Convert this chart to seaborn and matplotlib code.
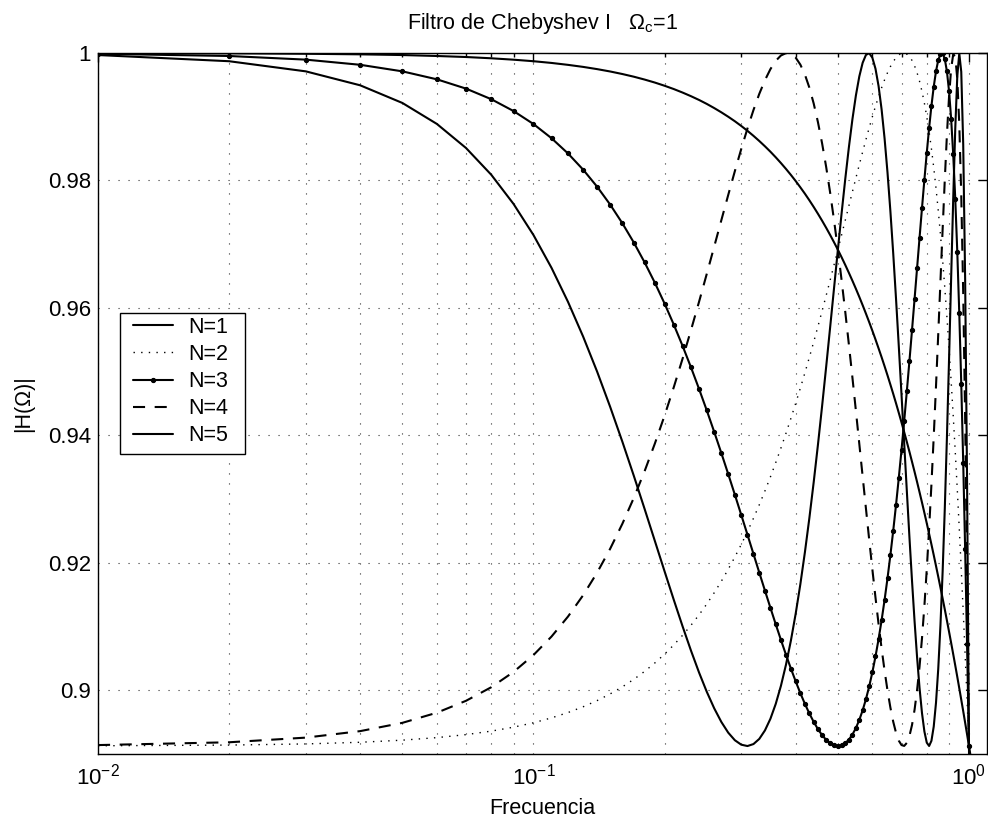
import numpy as np
import matplotlib
matplotlib.use("Agg")
import matplotlib.pyplot as plt
from matplotlib.patches import Rectangle
from matplotlib.ticker import LogLocator, NullFormatter
import seaborn as sns

# ---------------- data ----------------
freq = [0.01, 0.02, 0.03, 0.04, 0.05, 0.06, 0.07, 0.08, 0.09, 0.10,
        0.11, 0.12, 0.13, 0.14, 0.15, 0.16, 0.17, 0.18, 0.19, 0.20,
        0.21, 0.22, 0.23, 0.24, 0.25, 0.26, 0.27, 0.28, 0.29, 0.30,
        0.31, 0.32, 0.33, 0.34, 0.35, 0.36, 0.37, 0.38, 0.39, 0.40,
        0.41, 0.42, 0.43, 0.44, 0.45, 0.46, 0.47, 0.48, 0.49, 0.50,
        0.51, 0.52, 0.53, 0.54, 0.55, 0.56, 0.57, 0.58, 0.59, 0.60,
        0.61, 0.62, 0.63, 0.64, 0.65, 0.66, 0.67, 0.68, 0.69, 0.70,
        0.71, 0.72, 0.73, 0.74, 0.75, 0.76, 0.77, 0.78, 0.79, 0.80,
        0.81, 0.82, 0.83, 0.84, 0.85, 0.86, 0.87, 0.88, 0.89, 0.90,
        0.91, 0.92, 0.93, 0.94, 0.95, 0.96, 0.97, 0.98, 0.99, 1.00,
        1.01]

mag_n1 = [0.99999, 0.99995, 0.99988, 0.99979, 0.99968, 0.99953, 0.99937, 0.99917, 0.99895, 0.99871,
          0.99844, 0.99814, 0.99782, 0.99747, 0.99710, 0.99670, 0.99628, 0.99583, 0.99536, 0.99486,
          0.99434, 0.99379, 0.99322, 0.99263, 0.99201, 0.99136, 0.99069, 0.99000, 0.98929, 0.98855,
          0.98779, 0.98700, 0.98619, 0.98536, 0.98451, 0.98363, 0.98273, 0.98181, 0.98087, 0.97991,
          0.97892, 0.97792, 0.97689, 0.97584, 0.97477, 0.97368, 0.97257, 0.97144, 0.97029, 0.96913,
          0.96794, 0.96673, 0.96550, 0.96426, 0.96300, 0.96172, 0.96042, 0.95910, 0.95777, 0.95642,
          0.95505, 0.95366, 0.95227, 0.95085, 0.94942, 0.94797, 0.94651, 0.94503, 0.94353, 0.94203,
          0.94050, 0.93897, 0.93742, 0.93585, 0.93428, 0.93269, 0.93108, 0.92947, 0.92784, 0.92620,
          0.92455, 0.92288, 0.92121, 0.91952, 0.91783, 0.91612, 0.91440, 0.91268, 0.91094, 0.90919,
          0.90744, 0.90567, 0.90390, 0.90212, 0.90032, 0.89852, 0.89672, 0.89490, 0.89308, 0.89125,
          0.88942]

mag_n2 = [0.89129, 0.89140, 0.89158, 0.89184, 0.89217, 0.89257, 0.89304, 0.89359, 0.89421, 0.89490,
          0.89567, 0.89650, 0.89741, 0.89838, 0.89943, 0.90054, 0.90172, 0.90297, 0.90429, 0.90567,
          0.90712, 0.90863, 0.91021, 0.91184, 0.91354, 0.91530, 0.91711, 0.91898, 0.92091, 0.92288,
          0.92491, 0.92699, 0.92911, 0.93128, 0.93348, 0.93573, 0.93801, 0.94032, 0.94266, 0.94503,
          0.94741, 0.94982, 0.95224, 0.95466, 0.95710, 0.95953, 0.96195, 0.96436, 0.96676, 0.96913,
          0.97147, 0.97377, 0.97603, 0.97824, 0.98039, 0.98248, 0.98449, 0.98642, 0.98826, 0.99000,
          0.99164, 0.99315, 0.99454, 0.99579, 0.99690, 0.99786, 0.99865, 0.99927, 0.99970, 0.99995,
          0.99999, 0.99982, 0.99944, 0.99883, 0.99798, 0.99690, 0.99556, 0.99397, 0.99212, 0.99000,
          0.98762, 0.98495, 0.98202, 0.97880, 0.97531, 0.97153, 0.96748, 0.96315, 0.95854, 0.95366,
          0.94852, 0.94311, 0.93745, 0.93153, 0.92537, 0.91898, 0.91236, 0.90553, 0.89849, 0.89125,
          0.88383]

mag_n3 = [0.99988, 0.99953, 0.99896, 0.99815, 0.99712, 0.99587, 0.99441, 0.99275, 0.99089, 0.98885,
          0.98663, 0.98424, 0.98170, 0.97902, 0.97621, 0.97328, 0.97025, 0.96713, 0.96394, 0.96068,
          0.95737, 0.95403, 0.95066, 0.94728, 0.94391, 0.94055, 0.93722, 0.93393, 0.93069, 0.92751,
          0.92441, 0.92139, 0.91846, 0.91564, 0.91294, 0.91035, 0.90790, 0.90558, 0.90341, 0.90140,
          0.89955, 0.89787, 0.89636, 0.89504, 0.89390, 0.89296, 0.89222, 0.89168, 0.89136, 0.89125,
          0.89136, 0.89170, 0.89226, 0.89305, 0.89408, 0.89535, 0.89686, 0.89861, 0.90060, 0.90283,
          0.90530, 0.90802, 0.91097, 0.91416, 0.91757, 0.92121, 0.92505, 0.92910, 0.93333, 0.93773,
          0.94227, 0.94694, 0.95171, 0.95654, 0.96139, 0.96623, 0.97100, 0.97565, 0.98012, 0.98434,
          0.98823, 0.99172, 0.99471, 0.99713, 0.99887, 0.99983, 0.99993, 0.99905, 0.99710, 0.99401,
          0.98970, 0.98410, 0.97716, 0.96885, 0.95917, 0.94812, 0.93574, 0.92209, 0.90723, 0.89125,
          0.87427]

mag_n4 = [0.89140, 0.89184, 0.89257, 0.89359, 0.89489, 0.89648, 0.89835, 0.90048, 0.90288, 0.90553,
          0.90843, 0.91156, 0.91491, 0.91846, 0.92221, 0.92613, 0.93020, 0.93440, 0.93872, 0.94311,
          0.94757, 0.95205, 0.95653, 0.96097, 0.96535, 0.96962, 0.97376, 0.97772, 0.98146, 0.98495,
          0.98816, 0.99105, 0.99359, 0.99573, 0.99747, 0.99877, 0.99961, 0.99998, 0.99987, 0.99927,
          0.99818, 0.99661, 0.99457, 0.99207, 0.98914, 0.98581, 0.98211, 0.97807, 0.97373, 0.96913,
          0.96431, 0.95933, 0.95423, 0.94905, 0.94384, 0.93865, 0.93353, 0.92851, 0.92365, 0.91898,
          0.91455, 0.91040, 0.90656, 0.90308, 0.89997, 0.89729, 0.89506, 0.89332, 0.89209, 0.89140,
          0.89127, 0.89175, 0.89284, 0.89456, 0.89694, 0.89999, 0.90373, 0.90814, 0.91323, 0.91898,
          0.92536, 0.93233, 0.93981, 0.94770, 0.95588, 0.96417, 0.97235, 0.98014, 0.98721, 0.99315,
          0.99751, 0.99979, 0.99945, 0.99596, 0.98884, 0.97772, 0.96234, 0.94267, 0.91885, 0.89125,
          0.86040]

mag_n5 = [0.99968, 0.99871, 0.99712, 0.99493, 0.99216, 0.98887, 0.98509, 0.98089, 0.97631, 0.97143,
          0.96629, 0.96096, 0.95551, 0.95000, 0.94447, 0.93900, 0.93364, 0.92843, 0.92342, 0.91866,
          0.91418, 0.91002, 0.90621, 0.90278, 0.89976, 0.89717, 0.89503, 0.89335, 0.89216, 0.89146,
          0.89125, 0.89156, 0.89237, 0.89370, 0.89553, 0.89787, 0.90070, 0.90401, 0.90779, 0.91201,
          0.91664, 0.92166, 0.92701, 0.93266, 0.93854, 0.94461, 0.95078, 0.95698, 0.96313, 0.96913,
          0.97488, 0.98028, 0.98523, 0.98962, 0.99335, 0.99633, 0.99847, 0.99970, 0.99998, 0.99926,
          0.99753, 0.99482, 0.99116, 0.98661, 0.98125, 0.97518, 0.96853, 0.96141, 0.95398, 0.94638,
          0.93874, 0.93123, 0.92398, 0.91714, 0.91083, 0.90520, 0.90036, 0.89643, 0.89354, 0.89178,
          0.89126, 0.89207, 0.89431, 0.89804, 0.90333, 0.91019, 0.91862, 0.92854, 0.93975, 0.95196,
          0.96465, 0.97705, 0.98808, 0.99631, 0.99996, 0.99705, 0.98567, 0.96440, 0.93271, 0.89125,
          0.84181]

series_labels = ["N=1", "N=2", "N=3", "N=4", "N=5"]
ytick_values = [0.9, 0.92, 0.94, 0.96, 0.98, 1.0]
ytick_labels = ["0.9", "0.92", "0.94", "0.96", "0.98", "1"]
title_text = r"Filtro de Chebyshev I   $\Omega_\mathrm{c}$=1"
xlabel_text = "Frecuencia"
ylabel_text = "|H(Ω)|"

# ---------------- style ----------------
sns.set_style("white")
plt.rcParams.update({
    "axes.edgecolor": "black",
    "axes.labelcolor": "black",
    "text.color": "black",
    "xtick.color": "black",
    "ytick.color": "black",
    "axes.linewidth": 1.0,
    "mathtext.fontset": "custom",
    "mathtext.rm": "Liberation Sans",
    "mathtext.it": "Liberation Sans:italic",
    "mathtext.bf": "Liberation Sans:bold",
    "mathtext.sf": "Liberation Sans",
})
plt.rcParams["font.family"] = ["Liberation Sans", "DejaVu Sans"]

FS = 15.5
TICK_FS = 16

fig = plt.figure(figsize=(9.88, 8.18), dpi=100)
fig.patch.set_facecolor("white")
ax = fig.add_axes([98 / 988, 64 / 818, 889 / 988, 701 / 818])
ax.set_facecolor("white")

styles = [
    dict(linestyle="-", linewidth=1.5),
    dict(linestyle=(0, (1, 4.5)), linewidth=1.0),
    dict(linestyle="-", linewidth=1.5, marker=".", markersize=6,
         markerfacecolor="black", markeredgecolor="black", markeredgewidth=0.8),
    dict(linestyle=(0, (5.8, 4.6)), linewidth=1.5),
    dict(linestyle="-", linewidth=1.5),
]
all_series = [mag_n1, mag_n2, mag_n3, mag_n4, mag_n5]

for vals, lab, st in zip(all_series, series_labels, styles):
    sns.lineplot(x=freq, y=vals, ax=ax, color="black", label=lab,
                 estimator=None, sort=False, **st)

# ---------------- axes ----------------
ax.set_xscale("log")
ax.set_xlim(0.01, 1.1)
ax.set_ylim(0.89, 1.0)
ax.xaxis.set_major_locator(LogLocator(base=10, numticks=10))
ax.xaxis.set_minor_locator(LogLocator(base=10, subs=(2, 3, 4, 5, 6, 7, 8, 9), numticks=30))
ax.xaxis.set_minor_formatter(NullFormatter())
ax.set_yticks(ytick_values)
ax.set_yticklabels(ytick_labels)

ax.tick_params(which="both", direction="in", top=True, right=True,
               color="black", width=1.0, labelsize=TICK_FS)
ax.tick_params(which="major", length=6.5)
ax.tick_params(which="minor", length=3.2)
ax.tick_params(axis="x", which="major", pad=7)
ax.tick_params(axis="y", which="major", pad=5)

grid_kw = dict(linestyle=(0, (1, 8)), linewidth=0.8, color="0.2")
ax.grid(True, axis="x", which="both", **grid_kw)
ax.grid(True, axis="y", which="major", **grid_kw)
ax.set_axisbelow(True)

for sp in ax.spines.values():
    sp.set_color("black")
    sp.set_linewidth(1.0)

ax.set_title(title_text, fontsize=FS, pad=17)
ax.set_xlabel(xlabel_text, fontsize=FS, labelpad=6)
ax.set_ylabel(ylabel_text, fontsize=FS, labelpad=10)

# ---------------- legend ----------------
handles, labs = ax.get_legend_handles_labels()
leg = ax.legend(handles, labs, loc="upper left",
                bbox_to_anchor=(35 / 889, (754 - 317) / 701),
                frameon=False, borderpad=0, borderaxespad=0,
                handlelength=40 / 21.5, handletextpad=15 / 21.5,
                labelspacing=0.28, fontsize=FS)
ax.add_patch(Rectangle((22 / 889, 300 / 701), 125 / 889, 141 / 701,
                       transform=ax.transAxes, facecolor="white",
                       edgecolor="black", linewidth=1.0, zorder=4.5,
                       clip_on=False))

fig.savefig("out.png", dpi=100)
